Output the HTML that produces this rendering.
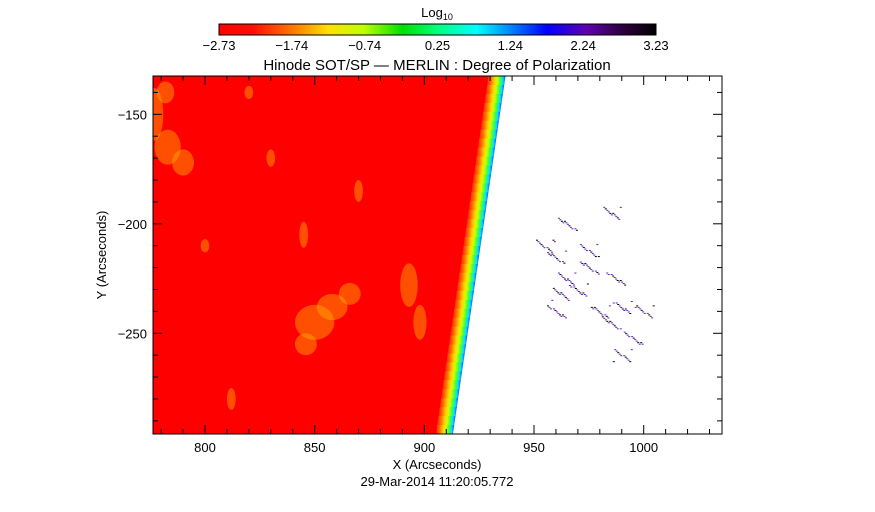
<!DOCTYPE html>
<html><head><meta charset="utf-8"><style>
html,body{margin:0;padding:0;background:#fff;}
svg{display:block;font-family:"Liberation Sans",sans-serif;}
</style></head><body>
<svg id="chart" width="875" height="512" viewBox="0 0 875 512">
<defs>
<linearGradient id="cbar" x1="0" x2="1" y1="0" y2="0">
<stop offset="0" stop-color="#ff0000"/><stop offset="0.08" stop-color="#ff1000"/>
<stop offset="0.17" stop-color="#ff7a00"/><stop offset="0.25" stop-color="#ffe000"/>
<stop offset="0.33" stop-color="#c0ff00"/><stop offset="0.42" stop-color="#00e000"/>
<stop offset="0.5" stop-color="#00ff80"/><stop offset="0.59" stop-color="#00ffff"/>
<stop offset="0.67" stop-color="#0080ff"/><stop offset="0.75" stop-color="#0000ff"/>
<stop offset="0.84" stop-color="#6000b0"/><stop offset="0.92" stop-color="#300040"/>
<stop offset="1" stop-color="#000000"/>
</linearGradient>
<linearGradient id="limb" x1="0" x2="1" y1="0" y2="0">
<stop offset="0" stop-color="#ff2000"/><stop offset="0.2" stop-color="#ff7000"/>
<stop offset="0.4" stop-color="#ffd000"/><stop offset="0.55" stop-color="#d0ff00"/>
<stop offset="0.72" stop-color="#40ff40"/><stop offset="0.86" stop-color="#00e0ff"/>
<stop offset="1" stop-color="#2040ff"/>
</linearGradient>
<clipPath id="plotclip"><rect x="153" y="76" width="569" height="358"/></clipPath>
</defs>
<text x="437" y="17" font-size="13" text-anchor="middle">Log<tspan font-size="9" dy="3">10</tspan></text>
<rect x="219" y="24" width="437" height="11" fill="url(#cbar)" stroke="#000" stroke-width="1"/>
<g id="cbticks"></g>
<text x="437" y="70" font-size="15" text-anchor="middle">Hinode SOT/SP — MERLIN : Degree of Polarization</text>
<g id="image" clip-path="url(#plotclip)"></g>
<rect x="153" y="76" width="569" height="358" fill="none" stroke="#000" stroke-width="1"/>
<g id="axes"></g>
<text x="437" y="469" font-size="13" text-anchor="middle">X (Arcseconds)</text>
<text x="106" y="255" font-size="13" text-anchor="middle" transform="rotate(-90 106 255)">Y (Arcseconds)</text>
<text x="437" y="486" font-size="13" text-anchor="middle">29-Mar-2014 11:20:05.772</text>
</svg>
<script>
const xTicks=[800,850,900,950,1000];
const yTicks=[-150,-200,-250];
const cbLabels=["-2.73","-1.74","-0.74","0.25","1.24","2.24","3.23"];
const limbY=[-132.5,-296];
const limbX=[937,913];
const brights=[[777,-150,4,12],[783,-165,6,8],[790,-172,5,6],[782,-140,4,5],[850,-245,9,8],[858,-238,7,6],[846,-255,5,5],[866,-232,5,5],[893,-228,4,10],[898,-245,3,8],[800,-210,2,3],[830,-170,2,4],[845,-205,2,6],[820,-140,2,3],[870,-185,2,5],[812,-280,2,5]];
const spotX=[955,960,965,970,975,980,985,990,995,1000,965,985,960,990,975,962,987];
const spotY=[-210,-215,-225,-230,-212,-240,-245,-238,-252,-240,-200,-195,-240,-260,-220,-232,-225];
const NS="http://www.w3.org/2000/svg";
const X0=776.3,X1=1035.7,Y0=-132.5,Y1=-296,L=153,R=722,T=76,B=434;
const sx=v=>L+(v-X0)/(X1-X0)*(R-L);
const sy=v=>T+(v-Y0)/(Y1-Y0)*(B-T);
function mk(tag,attrs,parent){const e=document.createElementNS(NS,tag);for(const k in attrs)e.setAttribute(k,attrs[k]);parent.appendChild(e);return e;}
const ax=document.getElementById('axes');
for(let v=780;v<=1030;v+=10){const major=v%50===0;const x=sx(v);const len=major?9:5;
 const l1=mk('line',{x1:x,x2:x,y1:B,y2:B-len,stroke:'#000'},ax);
 
 
 mk('line',{x1:x,x2:x,y1:T,y2:T+len,stroke:'#000'},ax);}
for(let v=-140;v>=-290;v-=10){const major=v%50===0;const y=sy(v);const len=major?9:5;
 const l1=mk('line',{x1:L,x2:L+len,y1:y,y2:y,stroke:'#000'},ax);
 
 
 mk('line',{x1:R,x2:R-len,y1:y,y2:y,stroke:'#000'},ax);}
xTicks.forEach(v=>{const t=mk('text',{x:sx(v),y:B+18,'font-size':13,'text-anchor':'middle'},ax);t.textContent=v;
 
 });
yTicks.forEach(v=>{const t=mk('text',{x:L-6,y:sy(v)+5,'font-size':13,'text-anchor':'end'},ax);t.textContent=v.toString().replace('-','\u2212');
 
 });
const cb=document.getElementById('cbticks');
cbLabels.forEach((s,i)=>{const x=219+i*437/(cbLabels.length-1);
 const t=mk('text',{x:x,y:50,'font-size':13,'text-anchor':'middle'},cb);t.textContent=s.replace('-','\u2212');
 
 });
const img=document.getElementById('image');
const W=17;
const xt=sx(limbX[0]),xb=sx(limbX[1]),yt=sy(limbY[0]),yb=sy(limbY[1]);
const disk=mk('polygon',{points:`${L},${yt} ${xt-W+1},${yt} ${xb-W+1},${yb} ${L},${yb}`,fill:'#ff0000'},img);


brights.forEach(b=>{const e=mk('ellipse',{cx:sx(b[0]),cy:sy(b[1]),rx:b[2]*2.19,ry:b[3]*2.19,fill:'#ffb000',opacity:0.45},img);
 
 });
const n=40;
for(let i=0;i<n;i++){const y1=yt+(yb-yt)*i/n,y2=yt+(yb-yt)*(i+1)/n+0.5;
 const xa=xt+(xb-xt)*i/n,xc=xt+(xb-xt)*(i+1)/n;
 const s=mk('polygon',{points:`${xa-W},${y1} ${xa},${y1} ${xc},${y2} ${xc-W},${y2}`,fill:'url(#limb)'},img);
 
 }
spotX.forEach((px,i)=>{const cx=sx(px),cy=sy(spotY[i]);
 for(let k=0;k<12;k++){const dx=((k*7+i*3)%13)-6,dy=((k*5+i*11)%9)-4;
 const r=mk('rect',{x:cx+dx*1.5,y:cy+dy*1.5,width:2,height:1,fill:k%3===0?'#000000':'#6020c0'},img);
 
 }});
</script>
</body></html>
